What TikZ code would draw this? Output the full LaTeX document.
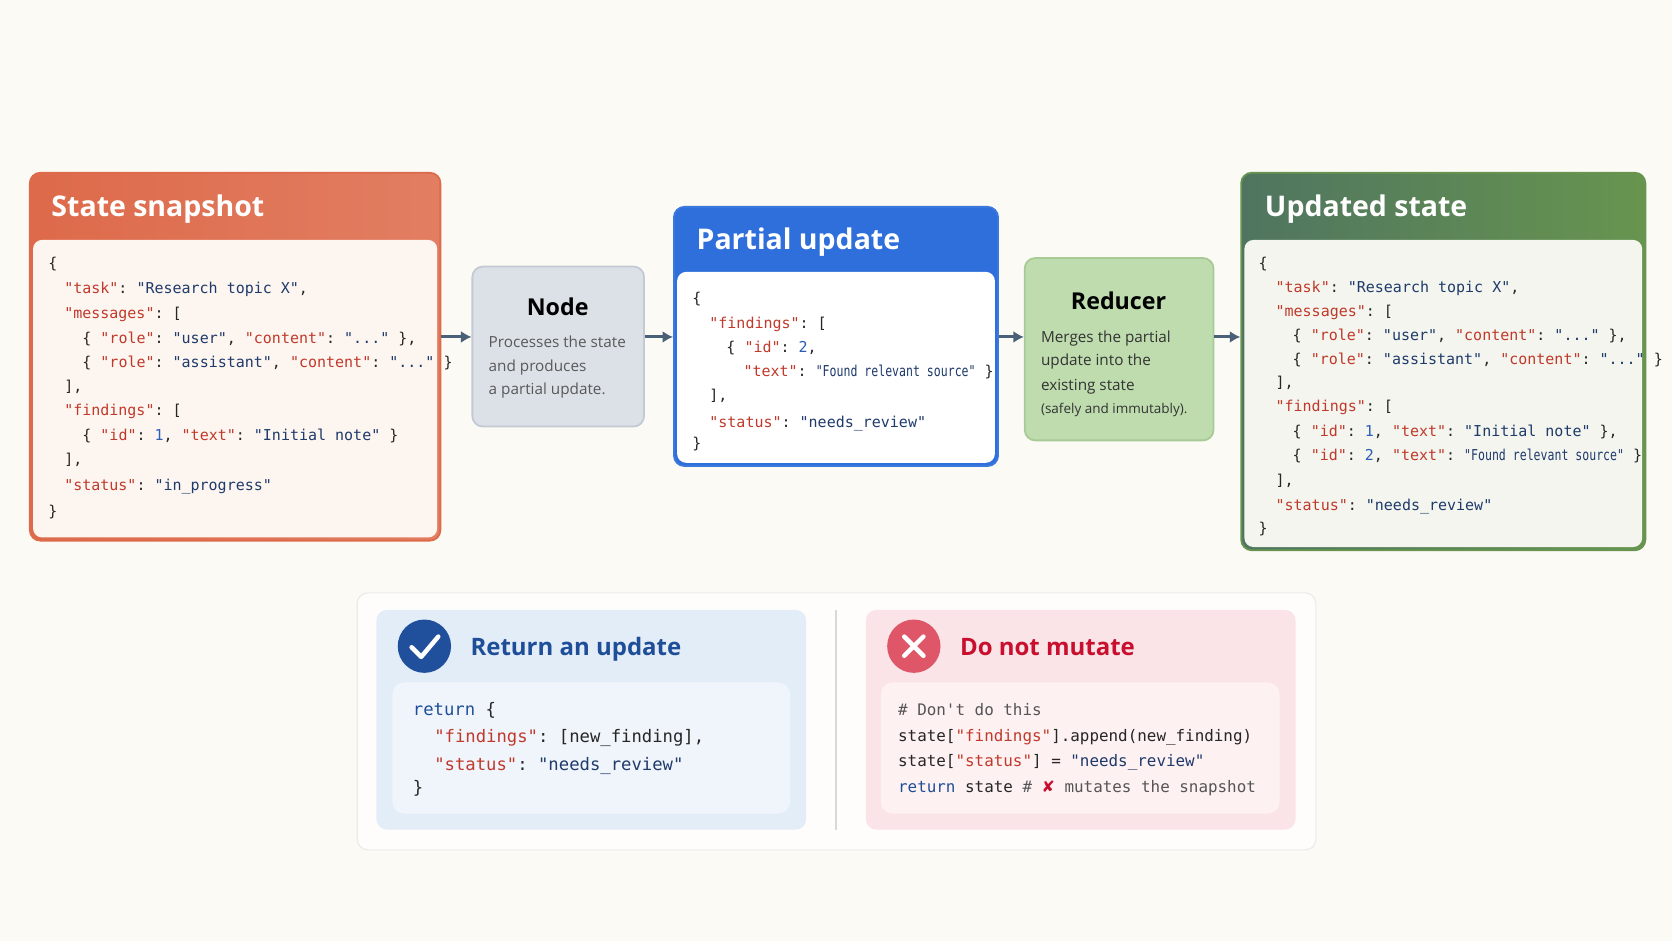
\documentclass[tikz,border=0pt]{standalone}
\usepackage{fontspec}
\setmainfont{Open Sans}
\setmonofont{DejaVu Sans Mono}
\newfontfamily\symfont{DejaVu Sans}
\usetikzlibrary{arrows.meta,fit}

\definecolor{bgcol}{HTML}{FCFAF4}
\definecolor{snaphead}{HTML}{DD6A4A}
\definecolor{snaphead2}{HTML}{E27E62}
\definecolor{snapbody}{HTML}{FDF6F0}
\definecolor{nodefill}{HTML}{DCE1E8}
\definecolor{nodeline}{HTML}{C3CAD4}
\definecolor{parthead}{HTML}{2F6FDB}
\definecolor{partline}{HTML}{3B78DE}
\definecolor{redfill}{HTML}{BEDCAE}
\definecolor{redline}{HTML}{A6CB96}
\definecolor{updhead}{HTML}{4F7560}
\definecolor{updhead2}{HTML}{67954F}
\definecolor{updbody}{HTML}{F3F5EE}
\definecolor{arrowcol}{HTML}{4A6078}
\definecolor{keyred}{HTML}{C0392B}
\definecolor{strnavy}{HTML}{1F3A6B}
\definecolor{numblue}{HTML}{2B5FB5}
\definecolor{okblue}{HTML}{1F4E99}
\definecolor{okfill}{HTML}{E3EDF8}
\definecolor{okinner}{HTML}{F0F5FB}
\definecolor{badred}{HTML}{C8102E}
\definecolor{badfill}{HTML}{FBE4E7}
\definecolor{badinner}{HTML}{FDF1F2}
\definecolor{commgray}{HTML}{555555}

\newcommand\ky[1]{\textcolor{keyred}{"#1"}}
\newcommand\sv[1]{\textcolor{strnavy}{"#1"}}
\newcommand\nm[1]{\textcolor{numblue}{#1}}
\newcommand\squeeze[1]{\scalebox{0.77}[1]{#1}}

\tikzset{
  panel/.style={inner sep=0pt, rounded corners=7pt, line width=1.2pt},
  code/.style={anchor=base west, inner sep=0pt, text=black!85,
    font=\fontsize{10}{12}\selectfont\ttfamily},
  bigcode/.style={code, font=\fontsize{11.5}{13}\selectfont\ttfamily},
  midcode/.style={code, font=\fontsize{10.6}{13}\selectfont\ttfamily},
  headtxt/.style={anchor=base west, inner sep=0pt, text=white,
    font=\fontsize{19}{22}\selectfont\bfseries},
  boxtitle/.style={anchor=base, inner sep=0pt,
    font=\fontsize{15.5}{18}\selectfont\bfseries},
  boxtxt/.style={anchor=base west, inner sep=0pt,
    font=\fontsize{10.2}{12}\selectfont},
  flow/.style={-{Latex[length=7pt,width=8pt]}, line width=2pt, draw=arrowcol},
}

\begin{document}
\begin{tikzpicture}[x=0.025cm, y=-0.025cm]
  \fill[bgcol] (0,0) rectangle (1568,882);
  \useasboundingbox (0,0) rectangle (1568,882);

  % state snapshot
  \node (snap) [panel, draw=snaphead, left color=snaphead, right color=snaphead2,
    fit={(28,162) (413,507)}] {};
  \fill[snapbody, rounded corners=6pt] (31,225) rectangle (410,504);
  \node (snapt) [headtxt] at (48,203) {State snapshot};
  \node [code] at (45,252) {\{};
  \node [code] at (60,275) {\ky{task}: \sv{Research topic X},};
  \node [code] at (60,299) {\ky{messages}: [};
  \node [code] at (77,322) {\{ \ky{role}: \sv{user}, \ky{content}: \sv{...} \},};
  \node [code] at (77,345) {\{ \ky{role}: \sv{assistant}, \ky{content}: \sv{...} \}};
  \node [code] at (60,367) {],};
  \node [code] at (60,390) {\ky{findings}: [};
  \node [code] at (77,413) {\{ \ky{id}: \nm{1}, \ky{text}: \sv{Initial note} \}};
  \node [code] at (60,436) {],};
  \node [code] at (60,460) {\ky{status}: \sv{in\_progress}};
  \node [code] at (45,484) {\}};

  % node
  \node (node) [panel, draw=nodeline, fill=nodefill, fit={(443,250) (604,400)}] {};
  \node [boxtitle] at (523,296) {Node};
  \node [boxtxt, text=black!65] at (458,326) {Processes the state};
  \node [boxtxt, text=black!65] at (458,348) {and produces};
  \node [boxtxt, text=black!65] at (458,370) {a partial update.};

  % partial update
  \node (part) [panel, draw=partline, fill=parthead, fit={(632,194) (936,437)}] {};
  \fill[white, rounded corners=6pt] (635,255) rectangle (933,434);
  \node [headtxt] at (653,234) {Partial update};
  \node [code] at (649,285) {\{};
  \node [code] at (665,308) {\ky{findings}: [};
  \node [code] at (681,331) {\{ \ky{id}: \nm{2},};
  \node [code] at (697,353) {\ky{text}: \squeeze{\sv{Found relevant source}} \}};
  \node [code] at (665,376) {],};
  \node [code] at (665,401) {\ky{status}: \sv{needs\_review}};
  \node [code] at (649,421) {\}};

  % reducer
  \node (red) [panel, draw=redline, fill=redfill, fit={(961,242) (1138,413)}] {};
  \node [boxtitle] at (1049,290) {Reducer};
  \node [boxtxt, text=black!80] at (976,321) {Merges the partial};
  \node [boxtxt, text=black!80] at (976,343) {update into the};
  \node [boxtxt, text=black!80] at (976,366) {existing state};
  \node [boxtxt, text=black!80, font=\fontsize{9}{11}\selectfont] at (976,388) {(safely and immutably).};

  % updated state
  \node (upd) [panel, draw=updhead2, left color=updhead, right color=updhead2,
    fit={(1164,162) (1543,516)}] {};
  \fill[updbody, rounded corners=6pt] (1167,225) rectangle (1540,513);
  \node [headtxt] at (1186,203) {Updated state};
  \node [code] at (1180,252) {\{};
  \node [code] at (1196,274) {\ky{task}: \sv{Research topic X},};
  \node [code] at (1196,297) {\ky{messages}: [};
  \node [code] at (1212,319) {\{ \ky{role}: \sv{user}, \ky{content}: \sv{...} \},};
  \node [code] at (1212,342) {\{ \ky{role}: \sv{assistant}, \ky{content}: \sv{...} \}};
  \node [code] at (1196,363) {],};
  \node [code] at (1196,386) {\ky{findings}: [};
  \node [code] at (1212,409) {\{ \ky{id}: \nm{1}, \ky{text}: \sv{Initial note} \},};
  \node [code] at (1212,432) {\{ \ky{id}: \nm{2}, \ky{text}: \squeeze{\sv{Found relevant source}} \}};
  \node [code] at (1196,455) {],};
  \node [code] at (1196,479) {\ky{status}: \sv{needs\_review}};
  \node [code] at (1180,500) {\}};

  % arrows
  \draw[flow] (snap.east |- 0,316) -- (node.west |- 0,316);
  \draw[flow] (node.east |- 0,316) -- (part.west |- 0,316);
  \draw[flow] (part.east |- 0,316) -- (red.west |- 0,316);
  \draw[flow] (red.east |- 0,316) -- (upd.west |- 0,316);

  % bottom panel
  \node (rules) [panel, draw=black!8, fill=white!60!bgcol, line width=0.8pt,
    fit={(335,556) (1234,797)}] {};
  \draw[black!15, line width=1pt] (784,572) -- (784,778);

  \node (ok) [panel, fill=okfill, fit={(353,572) (756,778)}] {};
  \fill[okinner, rounded corners=8pt] (368,640) rectangle (741,763);
  \node (okicon) [circle, fill=okblue!90!numblue, minimum size=50*0.025cm, inner sep=0] at (398,606) {};
  \draw[white, line width=3pt, line cap=round, line join=round]
    (386,607) -- (395,616) -- (411,597);
  \node [anchor=base west, inner sep=0, text=okblue, font=\fontsize{16}{19}\selectfont\bfseries]
    at (441,615) {Return an update};
  \node [bigcode] at (387,671) {\textcolor{okblue}{return} \{};
  \node [bigcode] at (407,696) {\ky{findings}: [new\_finding],};
  \node [bigcode] at (407,723) {\ky{status}: \sv{needs\_review}};
  \node [bigcode] at (387,744) {\}};

  \node (bad) [panel, fill=badfill, fit={(812,572) (1215,778)}] {};
  \fill[badinner, rounded corners=8pt] (826,640) rectangle (1200,763);
  \node (badicon) [circle, fill=badred!85!red!70!white, minimum size=50*0.025cm, inner sep=0] at (857,606) {};
  \draw[white, line width=3pt, line cap=round]
    (848,597) -- (866,615) (866,597) -- (848,615);
  \node [anchor=base west, inner sep=0, text=badred, font=\fontsize{16}{19}\selectfont\bfseries]
    at (900,615) {Do not mutate};
  \node [midcode] at (842,671) {\textcolor{commgray}{\# Don't do this}};
  \node [midcode] at (842,695) {state[\ky{findings}].append(new\_finding)};
  \node [midcode] at (842,719) {state[\ky{status}] = \sv{needs\_review}};
  \node [midcode] at (842,743) {\textcolor{okblue}{return} state \textcolor{commgray}{\# \textcolor{badred}{\symfont\bfseries ✘} mutates the snapshot}};
\end{tikzpicture}
\end{document}
